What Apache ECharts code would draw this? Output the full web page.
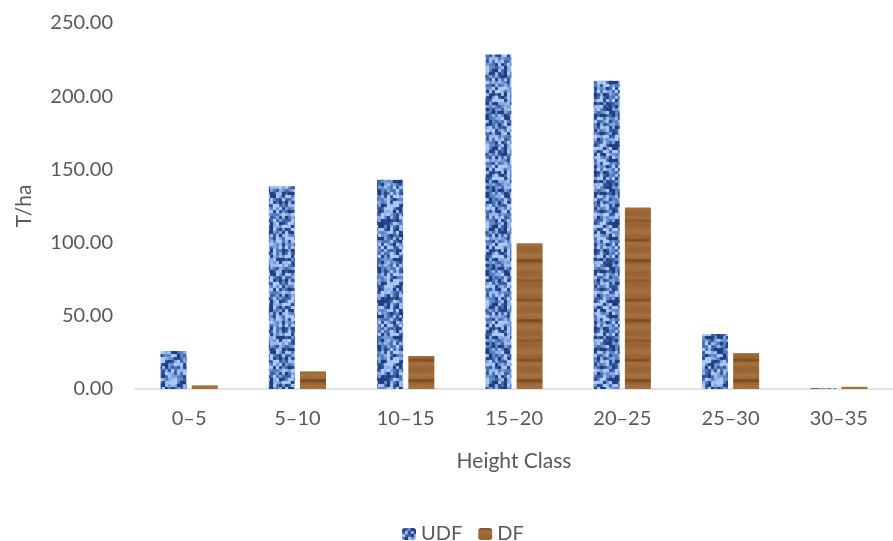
<!DOCTYPE html>
<html><head><meta charset="utf-8">
<style>html,body{margin:0;padding:0;background:#fff}#c{width:893px;height:541px}</style>
<script src="https://cdn.jsdelivr.net/npm/echarts@6/dist/echarts.min.js"></script>
</head><body><div id="c"></div>
<script>
const categories = ['0–5','5–10','10–15','15–20','20–25','25–30','30–35'];
const udfValues = [26, 138.5, 143, 228.5, 210.5, 37.5, 0.5];
const dfValues = [2.5, 12, 22.5, 99.5, 124, 24.5, 1.5];
const yTicks = {min: 0, max: 250, interval: 50};

function hash(x, y, s) {
  let n = (x * 374761393 + y * 668265263 + s * 1442695041) | 0;
  n = Math.imul(n ^ (n >>> 13), 1274126177);
  n = n ^ (n >>> 16);
  return (n >>> 0) / 4294967296;
}
function mix(a, b, t) { return a.map((v, i) => Math.round(v + (b[i] - v) * t)); }
function ramp(c, dark, mid, light) {
  c = Math.max(0, Math.min(1, c));
  return c < 0.5 ? mix(dark, mid, c / 0.5) : mix(mid, light, (c - 0.5) / 0.5);
}

function bluePattern() {
  const N = 26, S = 3, W = N * S, H = N * S, cv = document.createElement('canvas');
  cv.width = W; cv.height = H;
  const ctx = cv.getContext('2d');
  const dark = [30, 62, 128], mid = [100, 138, 205], light = [172, 202, 245];
  const cell = (x, y) => hash(((Math.floor(x / S) % N) + N) % N, ((Math.floor(y / S) % N) + N) % N, 1);
  for (let y = 0; y < H; y++) for (let x = 0; x < W; x++) {
    const s = cell(x, y) * 0.5 + (cell(x - 1, y) + cell(x + 1, y) + cell(x, y - 1) + cell(x, y + 1)) * 0.125;
    const c = (s - 0.5) * 1.6 + 0.5 + (hash(x, y, 2) - 0.5) * 0.15;
    ctx.fillStyle = 'rgb(' + ramp(c, dark, mid, light).join(',') + ')';
    ctx.fillRect(x, y, 1, 1);
  }
  return cv;
}
function woodPattern() {
  const W = 40, H = 60, cv = document.createElement('canvas');
  cv.width = W; cv.height = H;
  const ctx = cv.getContext('2d');
  const dark = [100, 56, 18], mid = [150, 98, 50], light = [182, 130, 78];
  const rowVals = [];
  for (let y = 0; y < H; y++) {
    const band = Math.cos((y / H) * Math.PI * 2 * 3);
    let v = 0.62 + 0.1 * Math.sin((y / H) * Math.PI * 2 * 5) + 0.06 * (hash(0, y, 3) - 0.5);
    if (band > 0.75) v -= 0.3 * (band - 0.75) / 0.25;
    rowVals.push(v);
  }
  for (let y = 0; y < H; y++) for (let x = 0; x < W; x++) {
    const c = rowVals[y] + 0.08 * (hash(Math.floor(x / 5), y, 4) - 0.5);
    ctx.fillStyle = 'rgb(' + ramp(c, dark, mid, light).join(',') + ')';
    ctx.fillRect(x, y, 1, 1);
  }
  return cv;
}

const FONT = 'Lato';
const TXT = '#595959';
const chart = echarts.init(document.getElementById('c'), null, {renderer: 'canvas'});
chart.setOption({
  animation: false,
  backgroundColor: '#fff',
  grid: {left: 135, right: -12, top: 23, bottom: 152},
  legend: {
    left: 397, top: 519,
    itemWidth: 14, itemHeight: 12, itemGap: 16,
    textStyle: {fontFamily: FONT, fontSize: 20, color: TXT},
    data: ['UDF', 'DF']
  },
  xAxis: {
    type: 'category', data: categories,
    name: 'Height Class', nameLocation: 'middle', nameGap: 62,
    nameTextStyle: {fontFamily: FONT, fontSize: 21, color: TXT},
    axisLine: {lineStyle: {color: '#d9d9d9', width: 1.5}},
    axisTick: {show: false},
    axisLabel: {fontFamily: FONT, fontSize: 20, color: TXT, margin: 20}
  },
  yAxis: {
    type: 'value', min: yTicks.min, max: yTicks.max, interval: yTicks.interval,
    name: 'T/ha', nameLocation: 'middle', nameGap: 100,
    nameTextStyle: {fontFamily: FONT, fontSize: 21, color: TXT},
    axisLine: {show: false}, axisTick: {show: false}, splitLine: {show: false},
    axisLabel: {fontFamily: FONT, fontSize: 20, color: TXT, margin: 22,
      formatter: v => v.toFixed(2)}
  },
  series: [
    {name: 'UDF', type: 'bar', data: udfValues, barWidth: 26, barGap: '20%',
      itemStyle: {color: {image: bluePattern(), repeat: 'repeat'}}},
    {name: 'DF', type: 'bar', data: dfValues, barWidth: 26, barGap: '20%',
      itemStyle: {color: {image: woodPattern(), repeat: 'repeat'}}}
  ]
});
</script></body></html>
